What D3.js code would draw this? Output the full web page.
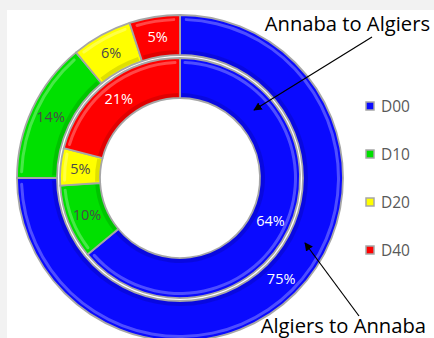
<!DOCTYPE html>
<html><head><meta charset="utf-8">
<script src="https://cdn.jsdelivr.net/npm/d3@7"></script>
<style>html,body{margin:0;padding:0;background:#f2f2f2;overflow:hidden}</style>
</head><body>
<script>
const categories = ["D00", "D10", "D20", "D40"];
const outerValues = [75, 14, 6, 5];   // Algiers to Annaba
const innerValues = [64, 10, 5, 21];  // Annaba to Algiers
const labels = ["75%", "14%", "6%", "5%"];
const innerLabels = ["64%", "10%", "5%", "21%"];
const colors = ["#0a0aff", "#00e000", "#ffff00", "#ff0000"];
const labelColors = ["#ffffff", "#4a4a4a", "#4a4a4a", "#ffffff"];
const seriesNames = ["Algiers to Annaba", "Annaba to Algiers"];

const W = 434, H = 338;
const FONT = "'Open Sans', Lato, sans-serif";
const svg = d3.select("body").append("svg").attr("width", W).attr("height", H);
svg.append("rect").attr("x", 7).attr("y", 10).attr("width", W - 7).attr("height", H - 10).attr("fill", "#ffffff");

const defs = svg.append("defs");
const arrowM = defs.append("marker").attr("id", "ah").attr("viewBox", "0 0 10 10")
  .attr("refX", 9).attr("refY", 5).attr("markerWidth", 7).attr("markerHeight", 7)
  .attr("orient", "auto");
arrowM.append("path").attr("d", "M0,0 L10,5 L0,10 z").attr("fill", "#000");

const cx = 180, cy = 178;
const g = svg.append("g").attr("transform", `translate(${cx},${cy})`);
const color = d3.scaleOrdinal().domain(categories).range(colors);
const pie = d3.pie().sort(null).value(d => d.v);

function ring(values, lbls, r0, r1) {
  const data = pie(values.map((v, i) => ({ v, c: categories[i], l: lbls[i], lc: labelColors[i] })));
  const arc = d3.arc().innerRadius(r0).outerRadius(r1);
  const gr = g.append("g");
  gr.selectAll("path.seg").data(data).enter().append("path").attr("class", "seg")
    .attr("d", arc).attr("fill", d => color(d.data.c))
    .attr("stroke", "#a6a6a6").attr("stroke-width", 1.8);
  // bevel highlight
  const hl = d3.arc().innerRadius(r1 - 6).outerRadius(r1 - 3).cornerRadius(1.5);
  gr.selectAll("path.hl").data(data).enter().append("path").attr("class", "hl")
    .attr("d", d => hl({ startAngle: d.startAngle + 0.03, endAngle: d.endAngle - 0.03 }))
    .attr("fill", "#ffffff").attr("opacity", 0.28);
  const sh = d3.arc().innerRadius(r0 + 1).outerRadius(r0 + 5);
  gr.selectAll("path.sh").data(data).enter().append("path").attr("class", "sh")
    .attr("d", d => sh({ startAngle: d.startAngle + 0.02, endAngle: d.endAngle - 0.02 }))
    .attr("fill", "#000000").attr("opacity", 0.12);
  gr.selectAll("text").data(data).enter().append("text")
    .attr("transform", d => `translate(${arc.centroid(d)})`)
    .attr("text-anchor", "middle").attr("dy", "0.35em")
    .attr("font-family", FONT).attr("font-size", 14.5)
    .attr("fill", d => d.data.lc).text(d => d.data.l);
}
ring(outerValues, labels, 123, 163);
ring(innerValues, innerLabels, 80, 120);

// legend
const lg = svg.append("g").attr("transform", "translate(366,106)");
const ly = d3.scalePoint().domain(categories).range([0, 144]);
categories.forEach(c => {
  const row = lg.append("g").attr("transform", `translate(0,${ly(c)})`);
  row.append("rect").attr("x", 0).attr("y", -4).attr("width", 8).attr("height", 8)
    .attr("fill", color(c)).attr("stroke", "#a6a6a6").attr("stroke-width", 1.5);
  row.append("text").attr("x", 15).attr("dy", "0.36em")
    .attr("font-family", FONT).attr("font-size", 15.5)
    .attr("fill", "#595959").text(c);
});

// annotations
svg.append("text").attr("x", 430).attr("y", 31).attr("text-anchor", "end")
  .attr("font-family", FONT).attr("font-size", 20.2)
  .attr("fill", "#000").text(seriesNames[1]);
svg.append("line").attr("x1", 372).attr("y1", 37).attr("x2", 254).attr("y2", 110)
  .attr("stroke", "#000").attr("stroke-width", 1.2).attr("marker-end", "url(#ah)");
svg.append("text").attr("x", 426).attr("y", 333).attr("text-anchor", "end")
  .attr("font-family", FONT).attr("font-size", 20.2)
  .attr("fill", "#000").text(seriesNames[0]);
svg.append("line").attr("x1", 359).attr("y1", 316).attr("x2", 305).attr("y2", 243)
  .attr("stroke", "#000").attr("stroke-width", 1.2).attr("marker-end", "url(#ah)");
</script>
</body></html>
